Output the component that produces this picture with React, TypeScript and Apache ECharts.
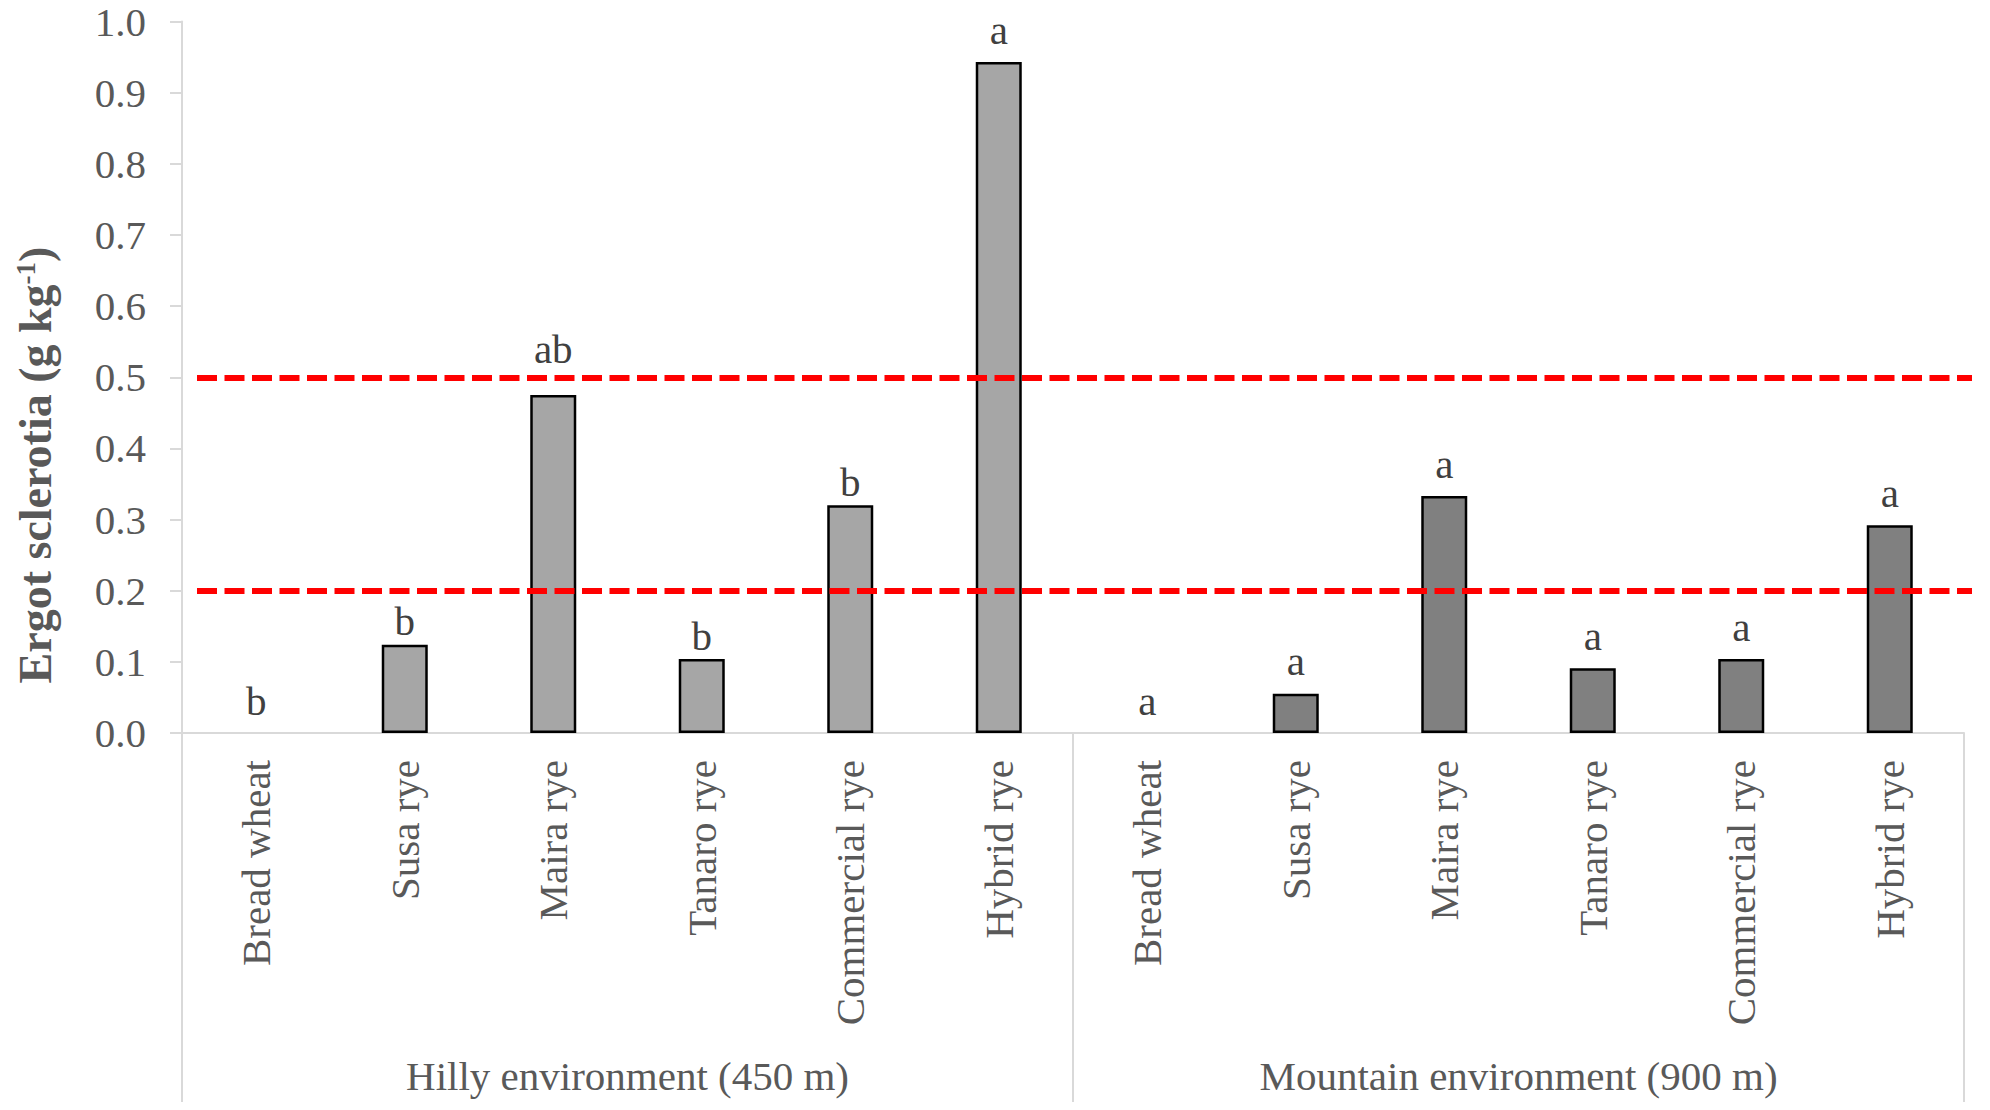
import React, { useEffect, useRef } from "react";
import * as echarts from "echarts";

const cultivars = ["Bread wheat", "Susa rye", "Maira rye", "Tanaro rye", "Commercial rye", "Hybrid rye"];
const environments = ["Hilly environment (450 m)", "Mountain environment (900 m)"];
const hillyValues = [0, 0.124, 0.475, 0.104, 0.32, 0.943];
const mountainValues = [0, 0.055, 0.333, 0.091, 0.104, 0.292];
const hillyLetters = ["b", "b", "ab", "b", "b", "a"];
const mountainLetters = ["a", "a", "a", "a", "a", "a"];
const thresholds = [0.5, 0.2];
const yTicks = { min: 0, max: 1, interval: 0.1 };

const FONT = "'Liberation Serif', 'Times New Roman', serif";

export default function App() {
  const ref = useRef<HTMLDivElement>(null);

  useEffect(() => {
    if (!ref.current) return;
    const chart = echarts.init(ref.current, null, { renderer: "svg" });
    const categories = [...cultivars, ...cultivars];
    const blanks = cultivars.map(() => null);
    const letters = [...hillyLetters, ...mountainLetters];

    const toItems = (vals: (number | null)[]) =>
      vals.map((v, i) => {
        if (v === null) return null;
        const l = letters[i];
        const lift = l.includes("a") ? (l.length > 1 ? 26 : 12) : v === 0 ? 12 : 3;
        return {
          value: v,
          itemStyle: v === 0 ? { borderWidth: 0 } : undefined,
          label: { distance: lift },
        };
      });

    const labelCfg = {
      show: true,
      position: "top",
      distance: 3,
      fontFamily: FONT,
      fontSize: 41,
      color: "#404040",
      formatter: (p: any) => letters[p.dataIndex],
    };

    chart.setOption({
      animation: false,
      backgroundColor: "#ffffff",
      grid: { left: 182, right: 26, top: 21.5, bottom: 377, containLabel: false },
      xAxis: [
        {
          type: "category",
          data: categories,
          position: "bottom",
          axisLine: { show: true, lineStyle: { color: "#d9d9d9", width: 2 } },
          axisTick: { show: false },
          axisLabel: {
            interval: 0,
            rotate: 90,
            margin: 27,
            fontFamily: FONT,
            fontSize: 41,
            color: "#595959",
          },
          splitLine: { show: false },
        },
        {
          type: "category",
          data: environments,
          position: "bottom",
          offset: 0,
          axisLine: { show: false },
          axisTick: { show: true, interval: 0, length: 369, lineStyle: { color: "#d9d9d9", width: 2 } },
          axisLabel: {
            interval: 0,
            margin: 322,
            fontFamily: FONT,
            fontSize: 41,
            color: "#595959",
          },
          splitLine: { show: false },
        },
      ],
      yAxis: {
        type: "value",
        min: yTicks.min,
        max: yTicks.max,
        interval: yTicks.interval,
        axisLine: { show: true, lineStyle: { color: "#d9d9d9", width: 2 } },
        axisTick: { show: true, length: 12, lineStyle: { color: "#d9d9d9", width: 2 } },
        splitLine: { show: false },
        axisLabel: {
          margin: 36,
          fontFamily: FONT,
          fontSize: 41,
          color: "#595959",
          formatter: (v: number) => v.toFixed(1),
        },
      },
      series: [
        {
          name: "Hilly",
          type: "bar",
          xAxisIndex: 0,
          data: toItems([...hillyValues, ...blanks]),
          barWidth: 46,
          barGap: "-100%",
          itemStyle: { color: "#a6a6a6", borderColor: "#000000", borderWidth: 2.5 },
          label: labelCfg,
          markLine: {
            silent: true,
            symbol: "none",
            label: { show: false },
            lineStyle: { color: "#ff0000", width: 6, type: [20, 7.5] },
            data: thresholds.map((t) => [
              { yAxis: t, x: 197 },
              { yAxis: t, x: 1972 },
            ]),
          },
        },
        {
          name: "Mountain",
          type: "bar",
          xAxisIndex: 0,
          data: toItems([...blanks, ...mountainValues]),
          barWidth: 46,
          barGap: "-100%",
          itemStyle: { color: "#808080", borderColor: "#000000", borderWidth: 2.5 },
          label: labelCfg,
        },
      ],
      graphic: [
        {
          type: "text",
          x: 35,
          y: 465,
          rotation: Math.PI / 2,
          style: {
            text: "{b|Ergot sclerotia (g kg}{sup|-1}{b|)}",
            align: "center",
            verticalAlign: "middle",
            textAlign: "center",
            textVerticalAlign: "middle",
            fill: "#595959",
            rich: {
              b: { fontFamily: FONT, fontSize: 46, fontWeight: "bold", fill: "#595959" },
              sup: { fontFamily: FONT, fontSize: 27, fontWeight: "bold", fill: "#595959", verticalAlign: "top" },
            },
          },
        },
      ],
    });

    return () => chart.dispose();
  }, []);

  return (
    <div
      ref={ref}
      style={{ position: "fixed", left: 0, top: 0, width: 1990, height: 1110, background: "#fff" }}
    />
  );
}
